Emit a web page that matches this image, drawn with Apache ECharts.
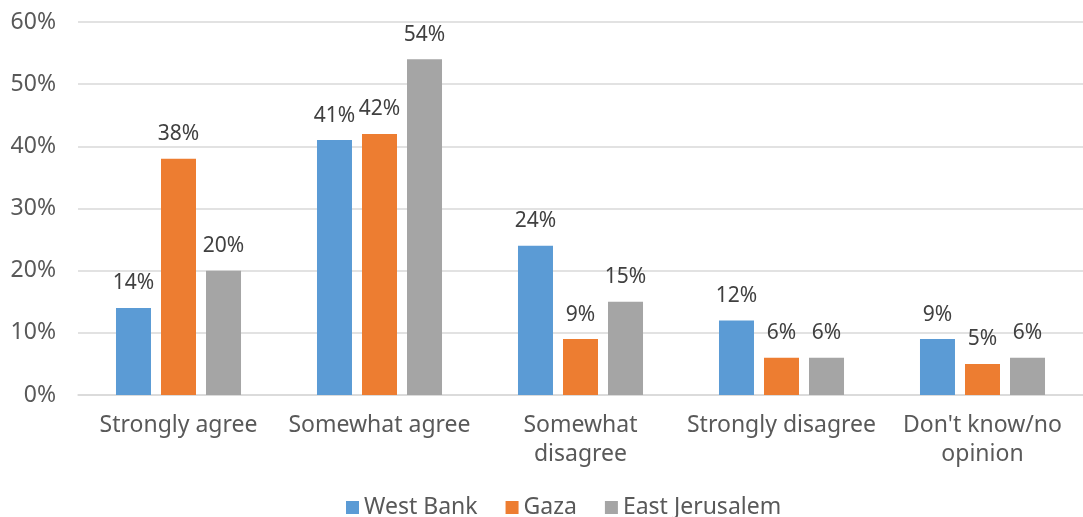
<!DOCTYPE html>
<html>
<head>
<meta charset="utf-8">
<script src="https://cdn.jsdelivr.net/npm/echarts@6/dist/echarts.min.js"></script>
<style>
html,body{margin:0;padding:0;background:#fff;}
#chart{width:1083px;height:517px;}
</style>
</head>
<body>
<div id="chart"></div>
<script>
var categories = ["Strongly agree", "Somewhat agree", "Somewhat\ndisagree", "Strongly disagree", "Don't know/no\nopinion"];
var westBank = [14, 41, 24, 12, 9];
var gaza = [38, 42, 9, 6, 5];
var eastJerusalem = [20, 54, 15, 6, 6];
var seriesNames = ["West Bank", "Gaza", "East Jerusalem"];
var colors = ["#5B9BD5", "#ED7D31", "#A5A5A5"];

var font = "'Noto Sans', sans-serif";
var chart = echarts.init(document.getElementById('chart'));
function mk(name, data, color) {
  return {
    name: name, type: 'bar', data: data, barWidth: 35, barGap: '28.6%',
    itemStyle: { color: color },
    label: { show: true, position: 'top', formatter: '{c}%', color: '#404040', fontSize: 21, fontFamily: font, distance: 14 }
  };
}
chart.setOption({
  animation: false,
  textStyle: { fontFamily: font },
  grid: { left: 78, right: 0, top: 22, bottom: 122, containLabel: false },
  legend: {
    top: 491, left: 341, itemWidth: 13, itemHeight: 13, itemGap: 28,
    icon: 'rect',
    textStyle: { color: '#595959', fontSize: 23, fontFamily: font },
    data: seriesNames
  },
  xAxis: {
    type: 'category', data: categories,
    axisLine: { show: true, lineStyle: { color: '#D9D9D9', width: 1.5 } },
    axisTick: { show: false },
    axisLabel: { color: '#595959', fontSize: 23, fontFamily: font, margin: 16, lineHeight: 29, interval: 0 }
  },
  yAxis: {
    type: 'value', min: 0, max: 60, interval: 10,
    axisLine: { show: false }, axisTick: { show: false },
    splitLine: { lineStyle: { color: '#D9D9D9', width: 1.5 } },
    axisLabel: { formatter: '{value}%', color: '#595959', fontSize: 23, fontFamily: font, margin: 22 }
  },
  series: [mk(seriesNames[0], westBank, colors[0]), mk(seriesNames[1], gaza, colors[1]), mk(seriesNames[2], eastJerusalem, colors[2])]
});
</script>
</body>
</html>
